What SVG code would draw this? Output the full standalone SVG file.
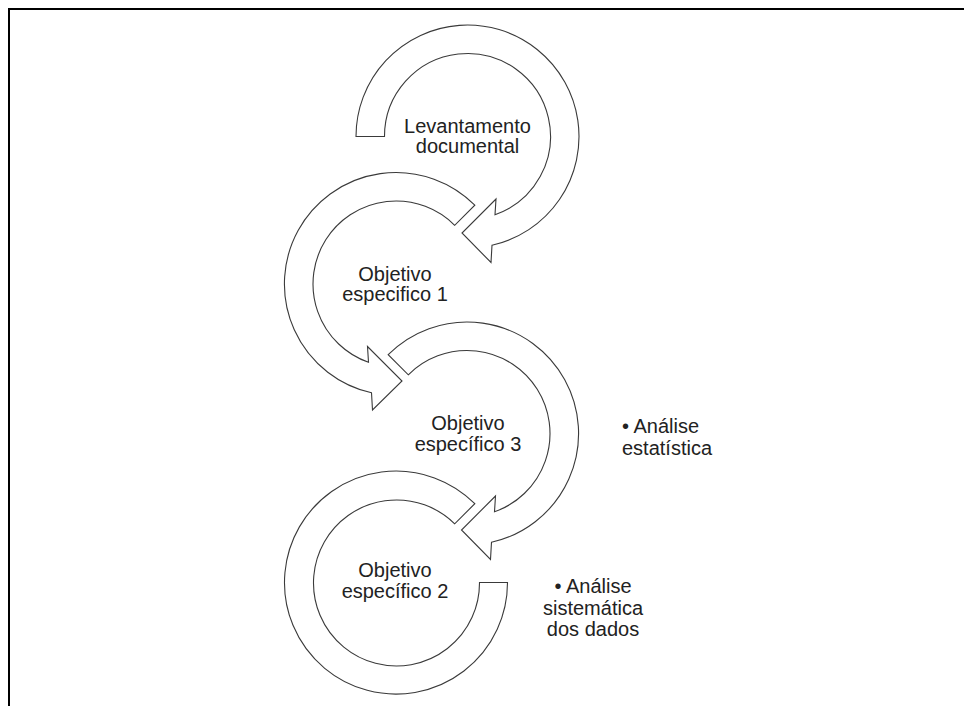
<svg xmlns="http://www.w3.org/2000/svg" width="964" height="706" viewBox="0 0 964 706">
  <style>
    .arc { fill: #ffffff; stroke: #3a3a3a; stroke-width: 1.1; stroke-linejoin: miter; }
    .lbl { font-family: "Liberation Sans", Arial, sans-serif; font-size: 20px; fill: #222222; }
    .mid { text-anchor: middle; }
    .frame { fill: none; stroke: #000000; stroke-width: 2; }
  </style>
  <rect x="0" y="0" width="964" height="706" fill="#ffffff"/>
  <path class="frame" d="M 9,706 V 9 H 964"/>

  <g id="node-levantamento">
    <path class="arc" d="M 356,136.5 A 111.5,111.5 0 1 1 492,245.3 L 491,262.5 L 462,233 L 496,199 L 495,214.8 A 83,83 0 1 0 384.5,136.5 Z"/>
    <text class="lbl mid" x="467.5" y="133">Levantamento</text>
    <text class="lbl mid" x="467.5" y="153">documental</text>
  </g>

  <g id="node-objetivo1">
    <path class="arc" d="M 474.8,205.2 A 111.5,111.5 0 1 0 371.5,392.8 L 372.5,410 L 402,381 L 367.5,346.5 L 368.5,362.3 A 83,83 0 1 1 454.7,225.3 Z"/>
    <text class="lbl mid" x="395" y="281">Objetivo</text>
    <text class="lbl mid" x="395" y="301">especifico 1</text>
  </g>

  <g id="node-objetivo3">
    <path class="arc" d="M 388.2,354.7 A 111.5,111.5 0 1 1 491.5,542.3 L 490.5,559.5 L 461.5,530 L 495.5,496 L 494.5,511.8 A 83,83 0 1 0 408.3,374.8 Z"/>
    <text class="lbl mid" x="468" y="430">Objetivo</text>
    <text class="lbl mid" x="468" y="451">específico 3</text>
  </g>

  <g id="node-objetivo2">
    <path class="arc" d="M 474.8,503.7 A 111.5,111.5 0 1 0 507.5,582.5 L 479.5,582.5 A 83,83 0 1 1 454.7,523.8 Z"/>
    <text class="lbl mid" x="395" y="577">Objetivo</text>
    <text class="lbl mid" x="395" y="598">específico 2</text>
  </g>

  <g id="note-estatistica">
    <text class="lbl" x="622" y="433">• Análise</text>
    <text class="lbl" x="622" y="455">estatística</text>
  </g>

  <g id="note-sistematica">
    <text class="lbl mid" x="593" y="593">• Análise</text>
    <text class="lbl mid" x="593" y="615">sistemática</text>
    <text class="lbl mid" x="593" y="636">dos dados</text>
  </g>

  <g id="connectors"></g>
</svg>
